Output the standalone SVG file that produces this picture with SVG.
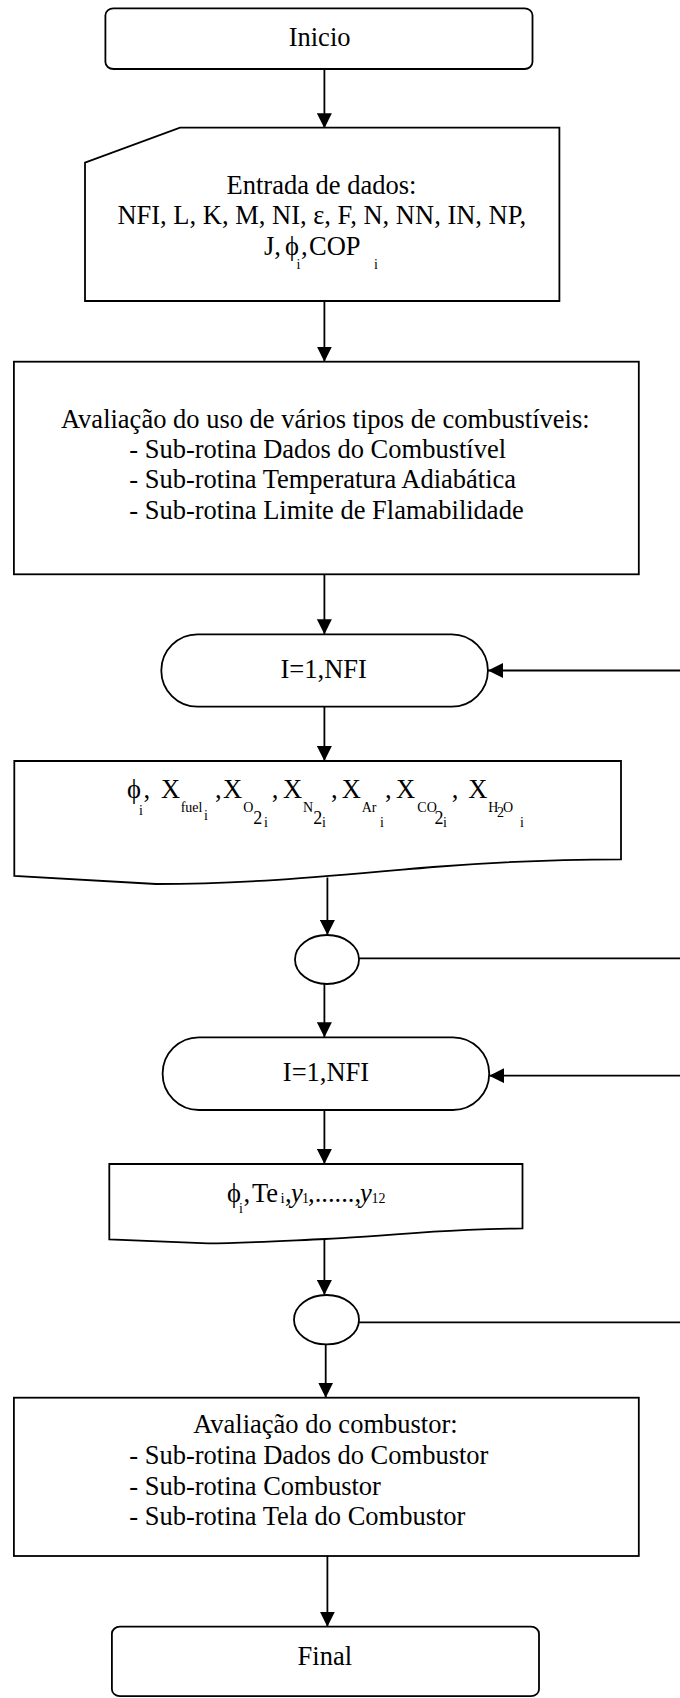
<svg xmlns="http://www.w3.org/2000/svg" width="680" height="1698" viewBox="0 0 680 1698">
<style>
  .shape { fill: #ffffff; stroke: #000000; stroke-width: 1.8; }
  .conn { fill: none; stroke: #000000; stroke-width: 1.8; }
  text { font-family: "Liberation Serif", "Times New Roman", serif; font-size: 26.5px; fill: #000000; }
  .c { text-anchor: middle; }
  .sub { font-size: 14px; }
  .two { font-size: 18px; }
  .it { font-style: italic; }
</style>
<defs>
  <marker id="arrow" markerUnits="userSpaceOnUse" markerWidth="15" markerHeight="15" refX="15" refY="7.5" orient="auto">
    <path d="M0,0 L15,7.5 L0,15 Z" fill="#000000"/>
  </marker>
</defs>
<rect width="680" height="1698" fill="#ffffff"/>

<g id="connectors">
  <path class="conn" d="M324.4,69 V128.3" marker-end="url(#arrow)"/>
  <path class="conn" d="M324.4,301 V361.7" marker-end="url(#arrow)"/>
  <path class="conn" d="M324.4,574.3 V634.3" marker-end="url(#arrow)"/>
  <path class="conn" d="M324.4,706.7 V761" marker-end="url(#arrow)"/>
  <path class="conn" d="M327.4,877.5 V935" marker-end="url(#arrow)"/>
  <path class="conn" d="M324.4,984 V1037.3" marker-end="url(#arrow)"/>
  <path class="conn" d="M324.4,1110 V1164" marker-end="url(#arrow)"/>
  <path class="conn" d="M324.4,1238.5 V1295" marker-end="url(#arrow)"/>
  <path class="conn" d="M325.7,1344.3 V1397.7" marker-end="url(#arrow)"/>
  <path class="conn" d="M327.4,1556 V1626.7" marker-end="url(#arrow)"/>
  <path class="conn" d="M680,670.5 H488" marker-end="url(#arrow)"/>
  <path class="conn" d="M359,958.3 H680"/>
  <path class="conn" d="M680,1075.7 H489.2" marker-end="url(#arrow)"/>
  <path class="conn" d="M359,1322.3 H680"/>
</g>

<g id="inicio">
  <rect class="shape" x="105.4" y="8.3" width="427.1" height="60.7" rx="8" ry="7"/>
  <text class="c" x="319.6" y="46">Inicio</text>
</g>

<g id="entrada">
  <path class="shape" d="M85,162.7 L180,127.7 H559.4 V301 H85 Z"/>
  <text class="c" x="321.5" y="194.3">Entrada de dados:</text>
  <text class="c" x="321.8" y="224">NFI, L, K, M, NI, ε, F, N, NN, IN, NP,</text>
  <text y="255"><tspan x="264">J,</tspan><tspan x="285">ϕ</tspan><tspan class="sub" x="296.5" y="269">i</tspan><tspan x="301" y="255">,</tspan><tspan x="309">COP</tspan><tspan class="sub" x="374" y="269">i</tspan></text>
</g>

<g id="avaliacao-combustiveis">
  <rect class="shape" x="13.9" y="361.7" width="624.9" height="212.6"/>
  <text class="c" x="325.3" y="427.7">Avaliação do uso de vários tipos de combustíveis:</text>
  <text x="129.2" y="457.5">- Sub-rotina Dados do Combustível</text>
  <text x="129.2" y="488">- Sub-rotina Temperatura Adiabática</text>
  <text x="129.2" y="518.5">- Sub-rotina Limite de Flamabilidade</text>
</g>

<g id="loop1">
  <rect class="shape" x="161.3" y="634.3" width="326.6" height="72.4" rx="36.2" ry="36.2"/>
  <text class="c" x="323.7" y="678.3">I=1,NFI</text>
</g>

<g id="saida1">
  <path class="shape" d="M14.3,761 H621 V859.3 C580,859.5 520,860 433,867 C330,876 250,884 156,884 L14.3,876 Z"/>
  <text y="798"><tspan x="127">ϕ</tspan><tspan class="sub" x="139" y="815">i</tspan><tspan x="143.5" y="798">,</tspan><tspan x="161" y="798">X</tspan><tspan class="sub" x="180.7" y="811.7">fuel</tspan><tspan class="sub" x="204" y="820">i</tspan><tspan x="215" y="798">,</tspan><tspan x="223" y="798">X</tspan><tspan class="sub" x="243.3" y="811.7">O</tspan><tspan class="two" x="253.3" y="824">2</tspan><tspan class="sub" x="264" y="827">i</tspan><tspan x="271.7" y="798">,</tspan><tspan x="283" y="798">X</tspan><tspan class="sub" x="303" y="811.7">N</tspan><tspan class="two" x="313.3" y="824">2</tspan><tspan class="sub" x="322" y="827">i</tspan><tspan x="331" y="798">,</tspan><tspan x="341.7" y="798">X</tspan><tspan class="sub" x="361.7" y="811.7">Ar</tspan><tspan class="sub" x="380" y="826.7">i</tspan><tspan x="385" y="798">,</tspan><tspan x="396" y="798">X</tspan><tspan class="sub" x="417.3" y="811.7">CO</tspan><tspan class="two" x="434.5" y="824">2</tspan><tspan class="sub" x="443" y="827">i</tspan><tspan x="451.7" y="798">,</tspan><tspan x="468.3" y="798">X</tspan><tspan class="sub" x="488.3" y="811.7">H</tspan><tspan class="sub" x="497" y="817">2</tspan><tspan class="sub" x="503" y="811.7">O</tspan><tspan class="sub" x="520" y="826.7">i</tspan></text>
</g>

<g id="conector1">
  <ellipse class="shape" cx="327" cy="959.5" rx="32" ry="24.5"/>
</g>

<g id="loop2">
  <rect class="shape" x="162.6" y="1037.3" width="326.6" height="72.7" rx="36.3" ry="36.3"/>
  <text class="c" x="326" y="1081">I=1,NFI</text>
</g>

<g id="saida2">
  <path class="shape" d="M109.3,1164 H522.5 V1228.3 C490,1229 460,1230 433.6,1231.7 C390,1235 350,1238 325,1239 C280,1241 240,1243.3 208,1243.3 L109.3,1239.3 Z"/>
  <text y="1201.7"><tspan x="227">ϕ</tspan><tspan class="sub" x="239" y="1213.3">i</tspan><tspan x="243.5" y="1201.7">,</tspan><tspan x="252" y="1201.7">Te</tspan><tspan style="font-size:15px" x="280.5" y="1203.3">i</tspan><tspan x="285" y="1201.7">,</tspan><tspan class="it" x="291" y="1201.7">y</tspan><tspan class="sub" x="302" y="1203.3">1</tspan><tspan x="308" y="1201.7">,......,</tspan><tspan class="it" x="360" y="1201.7">y</tspan><tspan class="sub" x="371.5" y="1203.3">12</tspan></text>
</g>

<g id="conector2">
  <ellipse class="shape" cx="326.5" cy="1319.7" rx="32.5" ry="24.7"/>
</g>

<g id="avaliacao-combustor">
  <rect class="shape" x="13.9" y="1397.7" width="624.9" height="158.3"/>
  <text class="c" x="325.4" y="1433.3">Avaliação do combustor:</text>
  <text x="129.2" y="1464">- Sub-rotina Dados do Combustor</text>
  <text x="129.2" y="1495">- Sub-rotina Combustor</text>
  <text x="129.2" y="1525">- Sub-rotina Tela do Combustor</text>
</g>

<g id="final">
  <rect class="shape" x="111.9" y="1626.7" width="427.1" height="69.5" rx="8" ry="7"/>
  <text class="c" x="324.8" y="1665">Final</text>
</g>
</svg>
